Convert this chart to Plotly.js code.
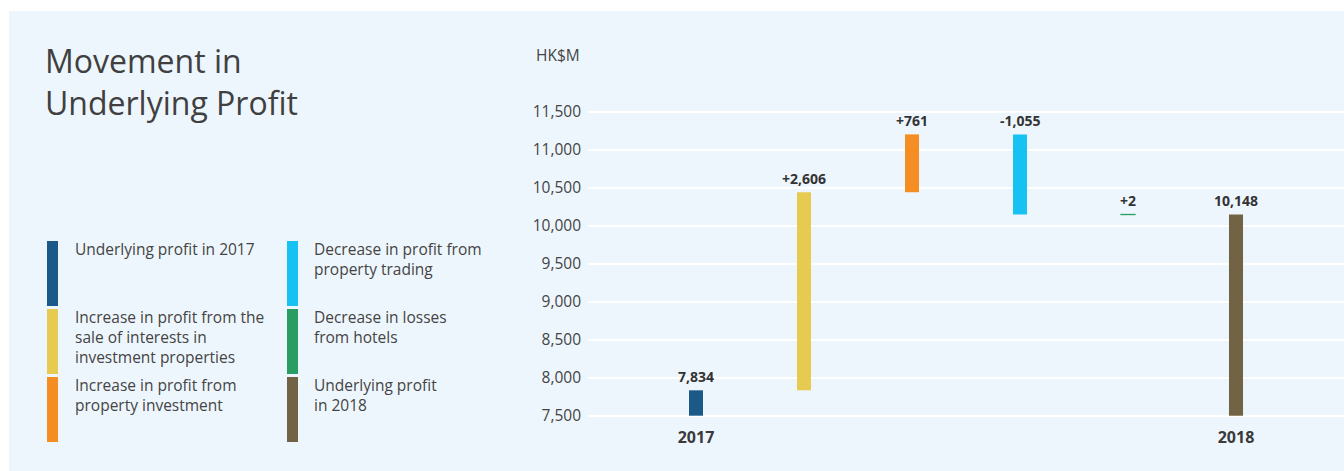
<!DOCTYPE html>
<html>
<head>
<meta charset="utf-8">
<script src="https://cdn.plot.ly/plotly-3.0.1.min.js"></script>
<style>
  html, body { margin: 0; padding: 0; background: #ffffff; }
  #chart { width: 1344px; height: 471px; }
</style>
</head>
<body>
<div id="chart"></div>
<script>
// ---- data ----
const categories = [
  'Underlying profit in 2017',
  'Increase in profit from the sale of interests in investment properties',
  'Increase in profit from property investment',
  'Decrease in profit from property trading',
  'Decrease in losses from hotels',
  'Underlying profit in 2018'
];
const legendLabels = [
  'Underlying profit in 2017',
  'Increase in profit from the<br>sale of interests in<br>investment properties',
  'Increase in profit from<br>property investment',
  'Decrease in profit from<br>property trading',
  'Decrease in losses<br>from hotels',
  'Underlying profit<br>in 2018'
];
const measures = ['total', 'relative', 'relative', 'relative', 'relative', 'total'];
const values = [7834, 2606, 761, -1055, 2, 10148];
const valueLabels = ['7,834', '+2,606', '+761', '-1,055', '+2', '10,148'];
const tickLabels = ['2017', '', '', '', '', '2018'];
const yTicks = [7500, 8000, 8500, 9000, 9500, 10000, 10500, 11000, 11500];
const axisBase = 7500;
const colors = ['#1b5a88', '#e6cb50', '#f58e22', '#17c1f1', '#2a9d62', '#736345'];
const titleText = 'Movement in<br>Underlying Profit';

// ---- derive waterfall bars ----
const bases = [], lengths = [], tops = [];
let running = 0;
values.forEach((v, i) => {
  if (measures[i] === 'total') {
    bases.push(axisBase); lengths.push(v - axisBase); running = v; tops.push(v);
  } else {
    bases.push(running); lengths.push(v); tops.push(Math.max(running, running + v)); running += v;
  }
});

// ---- layout geometry ----
const W = 1344, H = 471;
const M = { l: 588, r: 0, t: 104, b: 54 };
const PW = W - M.l - M.r, PH = H - M.t - M.b;
const xp = px => (px - M.l) / PW;
const yp = py => (H - M.b - py) / PH;

const textColor = '#444444';
const fontFam = '"Open Sans", "Noto Sans", sans-serif';

const shapes = [{
  type: 'rect', xref: 'paper', yref: 'paper', layer: 'below',
  x0: xp(9), x1: 1, y0: yp(H), y1: yp(11),
  fillcolor: '#eef6fd', line: { width: 0 }
}];
const annotations = [];

// title (one text block)
annotations.push({
  xref: 'paper', yref: 'paper', x: xp(43), y: yp(81), xanchor: 'left', yanchor: 'middle',
  align: 'left', text: titleText, showarrow: false,
  font: { family: fontFam, size: 32, color: '#404040' }
});

// legend blocks
const blockTops = [241, 309, 377];
const colX = [[47, 75], [287, 314]];
legendLabels.forEach((lab, i) => {
  const col = Math.floor(i / 3), row = i % 3;
  const [bx, tx] = colX[col];
  shapes.push({
    type: 'rect', xref: 'paper', yref: 'paper',
    x0: xp(bx), x1: xp(bx + 11), y0: yp(blockTops[row] + 65), y1: yp(blockTops[row]),
    fillcolor: colors[i], line: { width: 0 }
  });
  annotations.push({
    xref: 'paper', yref: 'paper', x: xp(tx - 2), y: yp(blockTops[row] - 5),
    xanchor: 'left', yanchor: 'top', align: 'left',
    text: lab, showarrow: false, font: { family: fontFam, size: 15.5, color: textColor }
  });
});

// unit label
annotations.push({
  xref: 'paper', yref: 'paper', x: xp(582), y: yp(55), xanchor: 'right', yanchor: 'middle',
  text: 'HK$M', showarrow: false, font: { family: fontFam, size: 15.5, color: textColor }
});

// value labels
valueLabels.forEach((t, i) => {
  annotations.push({
    x: categories[i], y: tops[i], xref: 'x', yref: 'y', yanchor: 'bottom', yshift: 2,
    text: t, showarrow: false,
    font: { family: fontFam, size: 14, color: '#333333', weight: 700 }
  });
});

const trace = {
  type: 'bar',
  x: categories,
  y: lengths,
  base: bases,
  width: 0.13,
  marker: {
    color: colors,
    line: { color: colors, width: values.map((v, i) => Math.abs(lengths[i]) < 20 ? 1.2 : 0) }
  },
  hoverinfo: 'none'
};

const layout = {
  width: W, height: H,
  margin: M,
  paper_bgcolor: '#ffffff',
  plot_bgcolor: 'rgba(0,0,0,0)',
  showlegend: false,
  bargap: 0.2,
  xaxis: {
    type: 'category',
    range: [-1, 6],
    tickmode: 'array', tickvals: categories, ticktext: tickLabels,
    showgrid: false, zeroline: false, showline: false, ticks: '',
    ticklabelstandoff: 9,
    tickfont: { family: fontFam, size: 16, color: '#3a3a3a', weight: 700 },
    fixedrange: true
  },
  yaxis: {
    range: [7483, 11601],
    tickmode: 'array', tickvals: yTicks,
    tickformat: ',d',
    showgrid: true, gridcolor: '#ffffff', gridwidth: 2,
    zeroline: false, showline: false, ticks: '',
    ticklabelstandoff: 6,
    tickfont: { family: fontFam, size: 15.5, color: textColor },
    fixedrange: true
  },
  shapes: shapes,
  annotations: annotations,
  font: { family: fontFam, color: textColor }
};

Plotly.newPlot('chart', [trace], layout, { staticPlot: true, displayModeBar: false });
</script>
</body>
</html>
